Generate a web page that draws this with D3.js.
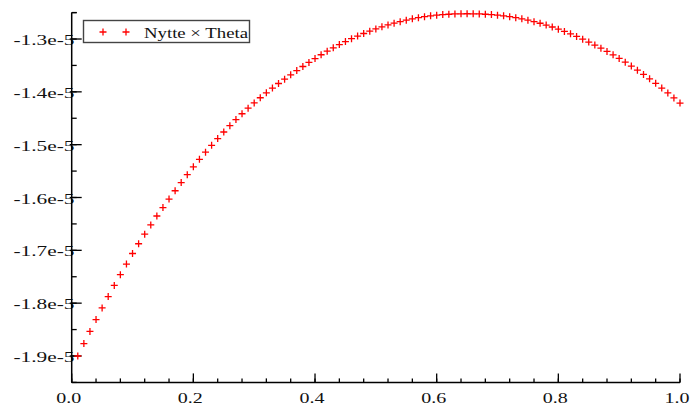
<!DOCTYPE html>
<html><head><meta charset="utf-8">
<script src="https://cdn.jsdelivr.net/npm/d3@7"></script>
<style>html,body{margin:0;padding:0;background:#fff;}svg{display:block;}</style>
</head><body>
<svg id="c" width="691" height="405"></svg>
<script>
const xValues = [0.01,0.02,0.03,0.04,0.05,0.06,0.07,0.08,0.09,0.10,
0.11,0.12,0.13,0.14,0.15,0.16,0.17,0.18,0.19,0.20,
0.21,0.22,0.23,0.24,0.25,0.26,0.27,0.28,0.29,0.30,
0.31,0.32,0.33,0.34,0.35,0.36,0.37,0.38,0.39,0.40,
0.41,0.42,0.43,0.44,0.45,0.46,0.47,0.48,0.49,0.50,
0.51,0.52,0.53,0.54,0.55,0.56,0.57,0.58,0.59,0.60,
0.61,0.62,0.63,0.64,0.65,0.66,0.67,0.68,0.69,0.70,
0.71,0.72,0.73,0.74,0.75,0.76,0.77,0.78,0.79,0.80,
0.81,0.82,0.83,0.84,0.85,0.86,0.87,0.88,0.89,0.90,
0.91,0.92,0.93,0.94,0.95,0.96,0.97,0.98,0.99,1.00];
const yValues = [-1.9000e-5,-1.8765e-5,-1.8535e-5,-1.8310e-5,-1.8090e-5,-1.7875e-5,-1.7665e-5,-1.7460e-5,-1.7260e-5,-1.7060e-5,
-1.6875e-5,-1.6695e-5,-1.6520e-5,-1.6350e-5,-1.6190e-5,-1.6030e-5,-1.5872e-5,-1.5718e-5,-1.5568e-5,-1.5420e-5,
-1.5278e-5,-1.5142e-5,-1.5012e-5,-1.4884e-5,-1.4760e-5,-1.4640e-5,-1.4525e-5,-1.4415e-5,-1.4310e-5,-1.4210e-5,
-1.4112e-5,-1.4018e-5,-1.3928e-5,-1.3842e-5,-1.3760e-5,-1.3678e-5,-1.3598e-5,-1.3520e-5,-1.3444e-5,-1.3370e-5,
-1.3298e-5,-1.3230e-5,-1.3166e-5,-1.3106e-5,-1.3048e-5,-1.2994e-5,-1.2944e-5,-1.2896e-5,-1.2851e-5,-1.2809e-5,
-1.2770e-5,-1.2734e-5,-1.2701e-5,-1.2671e-5,-1.2643e-5,-1.2618e-5,-1.2596e-5,-1.2577e-5,-1.2561e-5,-1.2548e-5,
-1.2538e-5,-1.2531e-5,-1.2526e-5,-1.2523e-5,-1.2522e-5,-1.2523e-5,-1.2526e-5,-1.2531e-5,-1.2538e-5,-1.2548e-5,
-1.2561e-5,-1.2577e-5,-1.2596e-5,-1.2618e-5,-1.2643e-5,-1.2671e-5,-1.2702e-5,-1.2736e-5,-1.2773e-5,-1.2813e-5,
-1.2856e-5,-1.2902e-5,-1.2951e-5,-1.3003e-5,-1.3058e-5,-1.3114e-5,-1.3173e-5,-1.3235e-5,-1.3300e-5,-1.3368e-5,
-1.3439e-5,-1.3513e-5,-1.3590e-5,-1.3670e-5,-1.3753e-5,-1.3839e-5,-1.3928e-5,-1.4020e-5,-1.4115e-5,-1.4213e-5];
const xTickValues = [0.0,0.2,0.4,0.6,0.8,1.0];
const xTickLabels = ["0.0","0.2","0.4","0.6","0.8","1.0"];
const yTickValues = [-1.3e-5,-1.4e-5,-1.5e-5,-1.6e-5,-1.7e-5,-1.8e-5,-1.9e-5];
const yTickLabels = ["-1.3e-5","-1.4e-5","-1.5e-5","-1.6e-5","-1.7e-5","-1.8e-5","-1.9e-5"];
const seriesName = "Nytte × Theta";

const svg = d3.select("#c");
const x = d3.scaleLinear().domain([0, 1]).range([71.7, 680]);
const y = d3.scaleLinear().domain([-1.95e-5, -1.25e-5]).range([382.4, 12.6]);
const font = "'Liberation Serif','Times New Roman',serif";

// minor ticks
const xMinor = d3.range(0, 1.0001, 0.04);
const yMinor = d3.range(-1.95e-5, -1.2499e-5, 0.05e-5);
const g = svg.append("g");
g.selectAll(".xm").data(xMinor).enter().append("line")
  .attr("x1", d => x(d)).attr("x2", d => x(d))
  .attr("y1", y.range()[0]).attr("y2", y.range()[0] - 4)
  .attr("stroke", "#000").attr("stroke-width", 1.3);
g.selectAll(".ym").data(yMinor).enter().append("line")
  .attr("x1", x.range()[0]).attr("x2", x.range()[0] + 5)
  .attr("y1", d => y(d)).attr("y2", d => y(d))
  .attr("stroke", "#000").attr("stroke-width", 1.3);
// major ticks
g.selectAll(".xM").data(xTickValues).enter().append("line")
  .attr("x1", d => x(d)).attr("x2", d => x(d))
  .attr("y1", y.range()[0]).attr("y2", y.range()[0] - 9)
  .attr("stroke", "#000").attr("stroke-width", 1.3);

// y labels (drawn before axis so the axis overlaps the last glyph)
g.selectAll(".yl").data(yTickValues).enter().append("text")
  .attr("x", 74.5).attr("y", d => y(d) + 6)
  .attr("text-anchor", "end")
  .attr("textLength", 61).attr("lengthAdjust", "spacingAndGlyphs")
  .attr("font-family", font).attr("font-size", 15).attr("fill", "#111")
  .text((d, i) => yTickLabels[i]);

g.selectAll(".yM").data(yTickValues).enter().append("line")
  .attr("x1", x.range()[0] - 2).attr("x2", x.range()[0] + 10)
  .attr("y1", d => y(d)).attr("y2", d => y(d))
  .attr("stroke", "#000").attr("stroke-width", 1.3);

// axis lines
g.append("line").attr("x1", x.range()[0]).attr("x2", x.range()[0])
  .attr("y1", y.range()[0]).attr("y2", y.range()[1])
  .attr("stroke", "#000").attr("stroke-width", 1.5);
g.append("line").attr("x1", x.range()[0]).attr("x2", x.range()[1])
  .attr("y1", y.range()[0]).attr("y2", y.range()[0])
  .attr("stroke", "#000").attr("stroke-width", 1.5);
// top tick of y axis
g.append("line").attr("x1", x.range()[0]).attr("x2", x.range()[0] + 5)
  .attr("y1", y.range()[1]).attr("y2", y.range()[1])
  .attr("stroke", "#000").attr("stroke-width", 1.3);

// x labels
g.selectAll(".xl").data(xTickValues).enter().append("text")
  .attr("x", d => x(d) - 3).attr("y", 403)
  .attr("text-anchor", "middle")
  .attr("textLength", 25).attr("lengthAdjust", "spacingAndGlyphs")
  .attr("font-family", font).attr("font-size", 15).attr("fill", "#111")
  .text((d, i) => xTickLabels[i]);

// markers
const plus = (sel, h) => sel.append("path")
  .attr("d", `M${-h},0H${h}M0,${-h}V${h}`)
  .attr("stroke", "#ff0000").attr("stroke-width", 1.3).attr("fill", "none");
const pts = svg.append("g").selectAll("g").data(xValues).enter().append("g")
  .attr("transform", (d, i) => `translate(${x(d)},${y(yValues[i])})`);
plus(pts, 3.5);

// legend
const lg = svg.append("g");
lg.append("rect").attr("x", 83.5).attr("y", 20.5).attr("width", 166).attr("height", 22)
  .attr("fill", "#fff").attr("stroke", "#444").attr("stroke-width", 1.4);
plus(lg.append("g").attr("transform", "translate(103,32)"), 3.5);
plus(lg.append("g").attr("transform", "translate(126,32)"), 3.5);
lg.append("text").attr("x", 144).attr("y", 37.7)
  .attr("textLength", 104).attr("lengthAdjust", "spacingAndGlyphs")
  .attr("font-family", font).attr("font-size", 14).attr("fill", "#111")
  .text(seriesName);
</script>
</body></html>
